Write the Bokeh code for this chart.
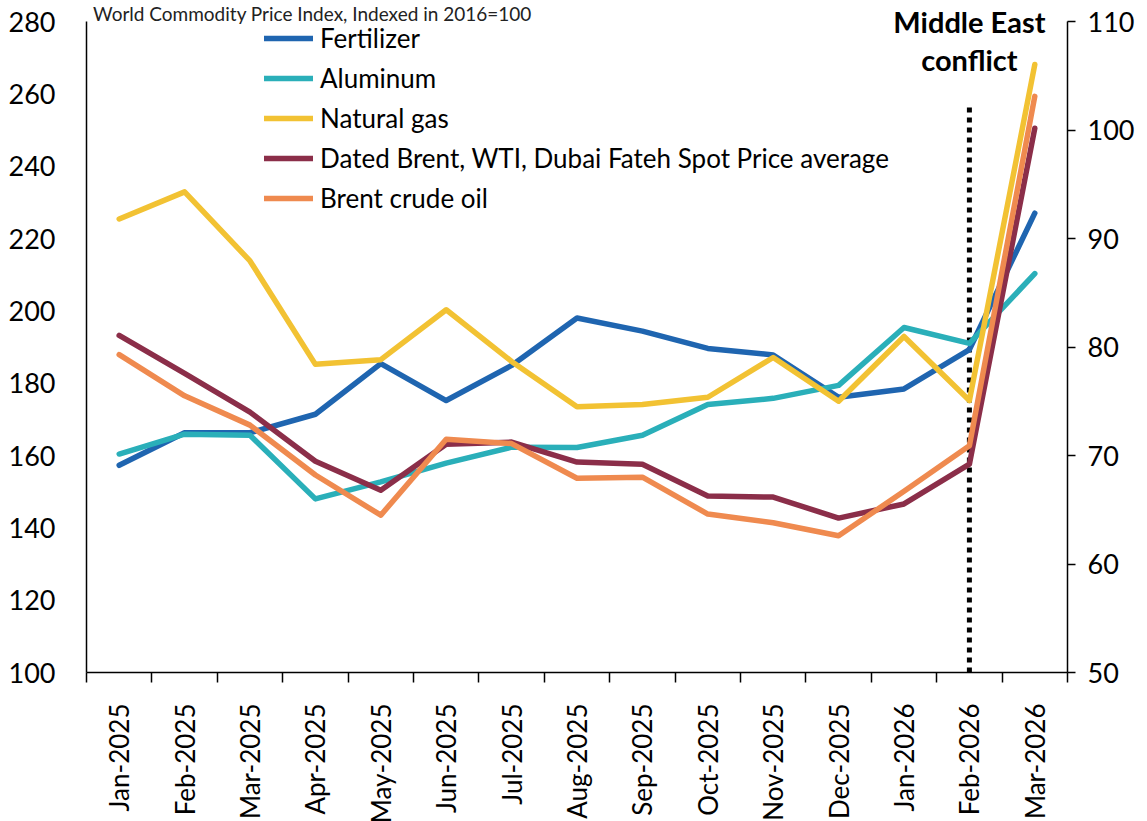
import math
from bokeh.plotting import figure
from bokeh.models import Range1d, LinearAxis, FixedTicker, Legend, LegendItem, Label
from bokeh.embed import file_html
from bokeh.resources import INLINE

months = ["Jan-2025", "Feb-2025", "Mar-2025", "Apr-2025", "May-2025", "Jun-2025",
          "Jul-2025", "Aug-2025", "Sep-2025", "Oct-2025", "Nov-2025", "Dec-2025",
          "Jan-2026", "Feb-2026", "Mar-2026"]

# Left axis: index, 2016=100
fertilizer = [157.3, 166.3, 166.3, 171.4, 185.4, 175.2, 184.9, 198.0, 194.4, 189.6, 187.8, 176.1, 178.4, 189.3, 227.0]
aluminum = [160.4, 165.9, 165.6, 148.0, 152.7, 157.9, 162.3, 162.2, 165.6, 174.1, 175.8, 179.4, 195.4, 191.0, 210.3]
natural_gas = [225.4, 232.9, 213.8, 185.2, 186.5, 200.3, 186.0, 173.5, 174.1, 176.1, 187.1, 175.0, 192.9, 175.2, 268.1]
oil_average = [193.2, 182.7, 172.0, 158.4, 150.4, 163.1, 163.7, 158.2, 157.6, 148.8, 148.5, 142.7, 146.6, 157.6, 250.5]
# Right axis: US$ per barrel
brent = [79.3, 75.5, 72.8, 68.2, 64.5, 71.5, 71.1, 67.9, 68.0, 64.6, 63.8, 62.6, 66.7, 70.9, 103.1]

left_ticks = [100, 120, 140, 160, 180, 200, 220, 240, 260, 280]
right_ticks = [50, 60, 70, 80, 90, 100, 110]

series_names = ["Fertilizer", "Aluminum", "Natural gas",
                "Dated Brent, WTI, Dubai Fateh Spot Price average", "Brent crude oil"]
series_colors = ["#1F65B0", "#2AAFB9", "#F2C233", "#8B2E49", "#EF8A4F"]

event_month = "Feb-2026"
event_top = 257.4
event_text = ["Middle East", "conflict"]
title_text = "World Commodity Price Index, Indexed in 2016=100"

FONT = "Lato"
TICK_SIZE = "27px"

FRAME_H = 672
AXIS_H = 651          # pixels spanned by the 100..280 axis
TOP_PAD = FRAME_H - AXIS_H
l_lo, l_hi = left_ticks[0], left_ticks[-1]
r_lo, r_hi = right_ticks[0], right_ticks[-1]
l_top = l_hi + TOP_PAD * (l_hi - l_lo) / AXIS_H
r_top = r_hi + TOP_PAD * (r_hi - r_lo) / AXIS_H

p = figure(frame_width=981, frame_height=FRAME_H, output_backend="svg", toolbar_location=None,
           x_range=Range1d(0, len(months)), y_range=Range1d(l_lo, l_top),
           min_border_left=86, min_border_right=80, min_border_top=0, min_border_bottom=149)
p.extra_y_ranges = {"usd": Range1d(r_lo, r_top)}
p.grid.visible = False
p.outline_line_color = None

centers = [i + 0.5 for i in range(len(months))]

# x axis: labels at category centres, ticks on category boundaries
xa = p.xaxis[0]
xa.ticker = FixedTicker(ticks=centers, minor_ticks=list(range(len(months) + 1)))
xa.major_label_overrides = {c: m for c, m in zip(centers, months)}
xa.major_label_orientation = math.pi / 2
xa.major_tick_out = 0
xa.major_tick_in = 0
xa.minor_tick_out = 10
xa.minor_tick_in = 0
xa.minor_tick_line_color = "black"
xa.minor_tick_line_width = 1.5
xa.axis_line_color = "black"
xa.axis_line_width = 1.5
xa.major_label_standoff = 21
xa.major_label_text_font = FONT
xa.major_label_text_font_size = "26px"
xa.major_label_text_color = "black"

ya = p.yaxis[0]
ya.ticker = FixedTicker(ticks=left_ticks)
ya.bounds = (l_lo, l_hi)
ya.major_tick_out = 0
ya.major_tick_in = 0
ya.minor_tick_line_color = None
ya.axis_line_color = "black"
ya.axis_line_width = 1.5
ya.major_label_standoff = 31
ya.major_label_text_font = FONT
ya.major_label_text_font_size = TICK_SIZE
ya.major_label_text_color = "black"

ra = LinearAxis(y_range_name="usd", ticker=FixedTicker(ticks=right_ticks), bounds=(r_lo, r_hi))
ra.major_tick_out = 8
ra.major_tick_in = 0
ra.major_tick_line_width = 1.5
ra.minor_tick_line_color = None
ra.axis_line_color = "black"
ra.axis_line_width = 1.5
ra.major_label_standoff = 12
ra.major_label_text_font = FONT
ra.major_label_text_font_size = TICK_SIZE
ra.major_label_text_color = "black"
p.add_layout(ra, "right")

# event marker
ev_x = months.index(event_month) + 0.5
p.segment(x0=[ev_x], y0=[l_lo], x1=[ev_x], y1=[event_top],
          line_color="black", line_width=5, line_dash="5 5")

data = [fertilizer, aluminum, natural_gas, oil_average, brent]
items = []
for name, col, vals in zip(series_names, series_colors, data):
    kw = {"y_range_name": "usd"} if name == "Brent crude oil" else {}
    r = p.line(centers, vals, line_color=col, line_width=5.5,
               line_cap="round", line_join="round", **kw)
    items.append(LegendItem(label=name, renderers=[r]))

legend = Legend(items=items, location=(178, 454), orientation="vertical",
                glyph_width=49, glyph_height=40, label_height=40, spacing=0,
                padding=0, margin=0, label_standoff=7,
                label_text_font=FONT, label_text_font_size="26px",
                label_text_color="black",
                background_fill_alpha=0, border_line_color=None)
p.add_layout(legend)

p.add_layout(Label(x=ev_x, y=279.9, text=event_text[0], text_align="center",
                   text_baseline="middle", text_font=FONT, text_font_style="bold",
                   text_font_size="29px", text_color="black"))
p.add_layout(Label(x=ev_x, y=269.6, text=event_text[1], text_align="center",
                   text_baseline="middle", text_font=FONT, text_font_style="bold",
                   text_font_size="29px", text_color="black"))

p.add_layout(Label(x=0.1, y=285.5, text=title_text, text_align="left",
                   text_baseline="top", text_font=FONT,
                   text_font_size="19px", text_color="#222222"))

open("out.html", "w").write(file_html(p, INLINE))
